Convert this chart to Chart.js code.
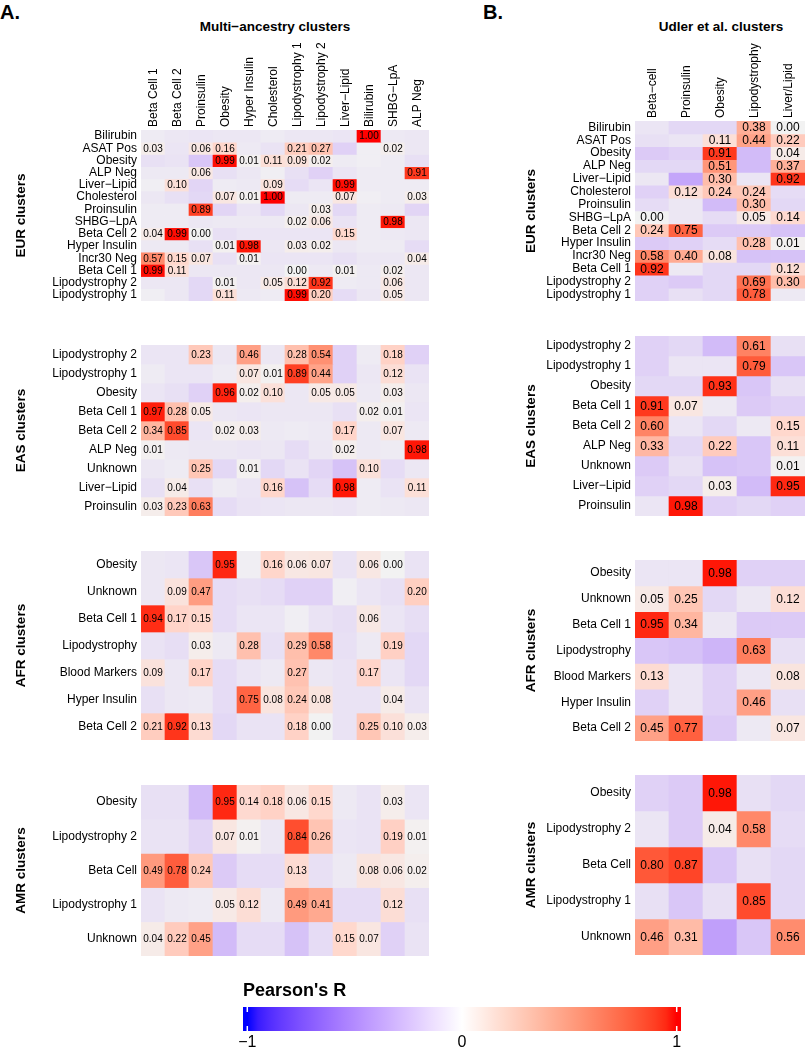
<!DOCTYPE html>
<html>
<head>
<meta charset="utf-8">
<script src="https://cdn.jsdelivr.net/npm/chart.js@4.4.1/dist/chart.umd.min.js"></script>
<style>
  body { margin: 0; background: #fff; width: 807px; height: 1050px; position: relative; overflow: hidden;
         font-family: "Liberation Sans", Arial, sans-serif; }
  canvas { position: absolute; }
  .lbl { position: absolute; font-weight: bold; color: #000; white-space: nowrap; }
</style>
</head>
<body>
<div class="lbl" style="left:0;top:2px;font-size:20px;line-height:20px;">A.</div>
<div class="lbl" style="left:483px;top:2px;font-size:20px;line-height:20px;">B.</div>
<div class="lbl" style="left:125px;top:19px;width:300px;text-align:center;font-size:13.5px;line-height:16px;">Multi−ancestry clusters</div>
<div class="lbl" style="left:571px;top:19px;width:300px;text-align:center;font-size:13.5px;line-height:16px;">Udler et al. clusters</div>

<canvas id="eurA" width="429" height="301" style="left:0;top:0"></canvas>
<canvas id="easA" width="429" height="171" style="left:0;top:345px"></canvas>
<canvas id="afrA" width="429" height="189" style="left:0;top:551px"></canvas>
<canvas id="amrA" width="429" height="171" style="left:0;top:785px"></canvas>
<canvas id="eurB" width="305" height="301" style="left:500px;top:0"></canvas>
<canvas id="easB" width="305" height="180" style="left:500px;top:336px"></canvas>
<canvas id="afrB" width="305" height="181" style="left:500px;top:560px"></canvas>
<canvas id="amrB" width="305" height="180" style="left:500px;top:775px"></canvas>
<canvas id="legend" width="480" height="75" style="left:220px;top:975px"></canvas>

<script>
const FONT = '"Liberation Sans", Arial, sans-serif';

// column labels
const colsA = ['Beta Cell 1', 'Beta Cell 2', 'Proinsulin', 'Obesity', 'Hyper Insulin', 'Cholesterol',
  'Lipodystrophy 1', 'Lipodystrophy 2', 'Liver−Lipid', 'Bilirubin', 'SHBG−LpA', 'ALP Neg'];
const colsB = ['Beta−cell', 'Proinsulin', 'Obesity', 'Lipodystrophy', 'Liver/Lipid'];

// row labels (ancestry clusters)
const rowsEur = ['Bilirubin', 'ASAT Pos', 'Obesity', 'ALP Neg', 'Liver−Lipid', 'Cholesterol', 'Proinsulin',
  'SHBG−LpA', 'Beta Cell 2', 'Hyper Insulin', 'Incr30 Neg', 'Beta Cell 1', 'Lipodystrophy 2', 'Lipodystrophy 1'];
const rowsEas = ['Lipodystrophy 2', 'Lipodystrophy 1', 'Obesity', 'Beta Cell 1', 'Beta Cell 2', 'ALP Neg',
  'Unknown', 'Liver−Lipid', 'Proinsulin'];
const rowsAfr = ['Obesity', 'Unknown', 'Beta Cell 1', 'Lipodystrophy', 'Blood Markers', 'Hyper Insulin', 'Beta Cell 2'];
const rowsAmr = ['Obesity', 'Lipodystrophy 2', 'Beta Cell', 'Lipodystrophy 1', 'Unknown'];

// Pearson's R, multi-ancestry clusters
const valsEurA = [
  [-0.03, -0.05, -0.06, -0.05, -0.05, -0.03, -0.05, -0.05, -0.06, 1.00, -0.04, -0.05],
  [0.03, -0.06, 0.06, 0.16, -0.04, -0.07, 0.21, 0.27, -0.15, -0.02, 0.02, -0.05],
  [-0.08, -0.07, -0.20, 0.99, 0.01, 0.11, 0.09, 0.02, -0.03, -0.02, -0.03, -0.08],
  [-0.04, -0.04, 0.06, -0.08, -0.05, -0.02, -0.08, -0.15, -0.06, -0.03, -0.03, 0.91],
  [-0.02, 0.10, -0.13, -0.03, -0.04, 0.09, -0.10, -0.06, 0.99, -0.03, -0.03, -0.03],
  [-0.05, -0.08, -0.12, 0.07, 0.01, 1.00, -0.03, -0.03, 0.07, -0.02, -0.03, 0.03],
  [-0.03, -0.03, 0.89, -0.13, -0.06, -0.12, -0.05, 0.03, -0.12, -0.03, -0.04, -0.13],
  [-0.03, -0.03, -0.05, -0.04, -0.04, -0.04, 0.02, 0.06, -0.07, -0.03, 0.98, -0.05],
  [0.04, 0.99, 0.00, -0.08, -0.06, -0.06, -0.06, -0.06, 0.15, -0.03, -0.04, -0.05],
  [-0.04, -0.04, -0.08, 0.01, 0.98, -0.05, 0.03, 0.02, -0.05, -0.03, -0.03, -0.10],
  [0.57, 0.15, 0.07, -0.08, 0.01, -0.06, -0.06, -0.06, -0.08, -0.05, -0.05, 0.04],
  [0.99, 0.11, -0.05, -0.05, -0.05, -0.05, 0.00, -0.04, 0.01, -0.04, 0.02, -0.05],
  [-0.05, -0.05, -0.12, 0.01, -0.05, 0.05, 0.12, 0.92, -0.03, -0.04, 0.06, -0.05],
  [-0.02, -0.05, -0.12, 0.11, -0.04, -0.03, 0.99, 0.20, -0.10, -0.05, 0.05, -0.05]
];
const valsEasA = [
  [-0.06, -0.06, 0.23, -0.05, 0.46, -0.05, 0.28, 0.54, -0.15, -0.03, 0.18, -0.15],
  [-0.03, -0.06, -0.06, -0.03, 0.07, 0.01, 0.89, 0.44, -0.15, -0.05, 0.12, -0.07],
  [-0.06, -0.08, -0.15, 0.96, 0.02, 0.10, -0.05, 0.05, 0.05, -0.04, 0.03, -0.05],
  [0.97, 0.28, 0.05, -0.05, -0.06, -0.05, -0.05, -0.05, -0.08, 0.02, 0.01, -0.06],
  [0.34, 0.85, -0.06, 0.02, 0.03, -0.04, -0.03, -0.04, 0.17, -0.04, 0.07, -0.04],
  [0.01, -0.04, -0.05, -0.05, -0.06, -0.05, -0.10, -0.05, 0.02, -0.04, -0.03, 0.98],
  [-0.05, -0.03, 0.25, -0.12, 0.01, -0.12, -0.07, -0.13, -0.22, 0.10, -0.10, -0.05],
  [-0.08, 0.04, -0.08, -0.03, -0.06, 0.16, -0.22, -0.10, 0.98, -0.03, -0.07, 0.11],
  [0.03, 0.23, 0.63, -0.10, -0.07, -0.06, -0.05, -0.05, -0.06, -0.03, -0.04, -0.05]
];
const valsAfrA = [
  [-0.05, -0.06, -0.20, 0.95, -0.02, 0.16, 0.06, 0.07, -0.07, 0.06, 0.00, -0.07],
  [-0.05, 0.09, 0.47, -0.10, -0.08, -0.10, -0.15, -0.15, -0.02, -0.06, -0.08, 0.20],
  [0.94, 0.17, 0.15, -0.10, -0.06, -0.06, -0.02, -0.07, -0.09, 0.06, -0.06, -0.09],
  [-0.07, -0.09, 0.03, -0.04, 0.28, -0.08, 0.29, 0.58, -0.08, -0.04, 0.19, -0.12],
  [0.09, -0.05, 0.17, -0.10, -0.06, -0.04, 0.27, -0.05, -0.07, 0.17, -0.06, -0.12],
  [-0.08, -0.05, -0.04, -0.10, 0.75, 0.08, 0.24, 0.08, -0.07, -0.07, 0.04, -0.07],
  [0.21, 0.92, 0.13, -0.12, -0.07, -0.07, 0.18, 0.00, -0.07, 0.25, 0.10, 0.03]
];
const valsAmrA = [
  [-0.08, -0.08, -0.25, 0.95, 0.14, 0.18, 0.06, 0.15, -0.04, -0.07, 0.03, -0.06],
  [-0.07, -0.07, -0.13, 0.07, 0.01, -0.05, 0.84, 0.26, -0.06, -0.07, 0.19, 0.01],
  [0.49, 0.78, 0.24, -0.18, -0.10, -0.10, 0.13, -0.08, -0.04, 0.08, 0.06, 0.02],
  [-0.07, -0.04, -0.03, 0.05, 0.12, -0.04, 0.49, 0.41, -0.10, -0.10, 0.12, -0.08],
  [0.04, 0.22, 0.45, -0.25, -0.10, -0.10, -0.22, -0.10, 0.15, 0.07, -0.15, -0.07]
];

// Pearson's R, Udler et al. clusters
const valsEurB = [
  [-0.06, -0.12, -0.12, 0.38, 0.00],
  [-0.08, -0.06, 0.11, 0.44, 0.22],
  [-0.18, -0.15, 0.91, -0.25, 0.04],
  [-0.12, -0.12, 0.51, -0.25, 0.37],
  [-0.05, -0.35, 0.30, -0.06, 0.92],
  [-0.15, 0.12, 0.24, 0.24, -0.10],
  [-0.10, -0.05, -0.25, 0.30, -0.12],
  [0.00, -0.05, -0.10, 0.05, 0.14],
  [0.24, 0.75, -0.18, -0.18, -0.22],
  [-0.18, -0.15, -0.10, 0.28, 0.01],
  [0.58, 0.40, 0.08, -0.22, -0.22],
  [0.92, -0.04, -0.12, -0.12, 0.12],
  [-0.15, -0.18, -0.12, 0.69, 0.30],
  [-0.15, -0.08, -0.12, 0.78, -0.04]
];
const valsEasB = [
  [-0.15, -0.12, -0.25, 0.61, -0.08],
  [-0.15, -0.06, -0.06, 0.79, -0.20],
  [-0.12, -0.12, 0.93, -0.20, -0.08],
  [0.91, 0.07, -0.04, -0.18, -0.15],
  [0.60, -0.06, -0.12, -0.04, 0.15],
  [0.33, -0.12, 0.22, -0.20, 0.11],
  [-0.18, -0.08, -0.22, -0.20, 0.01],
  [-0.15, -0.12, 0.03, -0.25, 0.95],
  [-0.06, 0.98, -0.15, -0.12, -0.15]
];
const valsAfrB = [
  [-0.06, -0.06, 0.98, -0.15, -0.15],
  [0.05, 0.25, -0.12, -0.05, 0.12],
  [0.95, 0.34, -0.05, -0.18, -0.18],
  [-0.20, -0.22, -0.28, 0.63, -0.08],
  [0.13, -0.06, -0.15, -0.05, 0.08],
  [-0.15, -0.06, -0.15, 0.46, -0.08],
  [0.45, 0.77, -0.18, -0.04, 0.07]
];
const valsAmrB = [
  [-0.15, -0.18, 0.98, -0.08, -0.12],
  [-0.06, -0.18, 0.04, 0.58, -0.10],
  [0.80, 0.87, -0.20, -0.08, -0.12],
  [-0.08, -0.20, -0.08, 0.85, -0.12],
  [0.46, 0.31, -0.38, -0.20, 0.56]
];

const legendTicks = [-1, 0, 1];

// ---- colour scale: blue - white - red interpolated in LAB ----
function toLab(hex) {
  const lin = c => { c /= 255; return c <= 0.04045 ? c / 12.92 : Math.pow((c + 0.055) / 1.055, 2.4); };
  const r = lin(parseInt(hex.slice(1, 3), 16)), g = lin(parseInt(hex.slice(3, 5), 16)), b = lin(parseInt(hex.slice(5, 7), 16));
  const X = (r * 0.4124 + g * 0.3576 + b * 0.1805) / 0.95047;
  const Y = r * 0.2126 + g * 0.7152 + b * 0.0722;
  const Z = (r * 0.0193 + g * 0.1192 + b * 0.9505) / 1.08883;
  const f = t => t > 0.008856 ? Math.cbrt(t) : 7.787 * t + 16 / 116;
  return [116 * f(Y) - 16, 500 * (f(X) - f(Y)), 200 * (f(Y) - f(Z))];
}
function fromLab(L, a, b) {
  const fy = (L + 16) / 116, fx = fy + a / 500, fz = fy - b / 200;
  const inv = t => t * t * t > 0.008856 ? t * t * t : (t - 16 / 116) / 7.787;
  const X = inv(fx) * 0.95047, Y = inv(fy), Z = inv(fz) * 1.08883;
  const R = X * 3.2406 - Y * 1.5372 - Z * 0.4986;
  const G = -X * 0.9689 + Y * 1.8758 + Z * 0.0415;
  const B = X * 0.0557 - Y * 0.2040 + Z * 1.0570;
  const gam = c => {
    c = c <= 0.0031308 ? 12.92 * c : 1.055 * Math.pow(c, 1 / 2.4) - 0.055;
    return Math.round(Math.min(1, Math.max(0, c)) * 255);
  };
  return `rgb(${gam(R)},${gam(G)},${gam(B)})`;
}
const BLUE = toLab('#0000ff'), RED = toLab('#ff0000');
function makeScale(midHex) {
  const mid = toLab(midHex);
  return v => {
    const t = Math.max(-1, Math.min(1, v));
    const end = t < 0 ? BLUE : RED, s = Math.abs(t);
    return fromLab(mid[0] + s * (end[0] - mid[0]), mid[1] + s * (end[1] - mid[1]), mid[2] + s * (end[2] - mid[2]));
  };
}
const cellColor = makeScale('#f2f2f2');
const barColor = makeScale('#ffffff');

// write the correlation inside each non-negative cell
const cellText = {
  id: 'cellText',
  afterDatasetsDraw(chart, args, opts) {
    const ctx = chart.ctx;
    ctx.save();
    ctx.font = `${opts.size}px ${FONT}`;
    ctx.fillStyle = '#000';
    ctx.textAlign = 'center';
    ctx.textBaseline = 'middle';
    chart.data.datasets.forEach((ds, i) => {
      chart.getDatasetMeta(i).data.forEach((bar, j) => {
        const v = ds.values[j];
        if (v < 0) return;
        ctx.fillText(v.toFixed(2), bar.x, (bar.y + bar.base) / 2 + 0.5);
      });
    });
    ctx.restore();
  }
};

function heatmap(id, rows, cols, vals, group, o) {
  new Chart(document.getElementById(id), {
    type: 'bar',
    data: {
      labels: cols,
      datasets: rows.map((r, i) => ({
        label: r,
        data: cols.map(() => [i, i + 1]),
        values: vals[i],
        backgroundColor: vals[i].map(cellColor),
        borderWidth: 0,
        grouped: false,
        categoryPercentage: 1,
        barPercentage: 1
      }))
    },
    options: {
      responsive: false,
      animation: false,
      events: [],
      layout: { padding: 0 },
      plugins: { legend: { display: false }, tooltip: { enabled: false }, cellText: { size: o.cellFont } },
      scales: {
        x: {
          position: 'top',
          grid: { display: false, drawTicks: false },
          border: { display: false },
          ticks: {
            display: o.xh > 0, autoSkip: false, maxRotation: 90, minRotation: 90, padding: 3,
            labelOffset: 15, color: '#000', font: { family: FONT, size: 12 }
          },
          afterFit: s => { s.height = o.xh; s.paddingLeft = 0; s.paddingRight = 0; }
        },
        y: {
          type: 'linear', reverse: true, min: 0, max: rows.length,
          grid: { display: false, drawTicks: false },
          border: { display: false },
          afterBuildTicks: s => { s.ticks = rows.map((r, i) => ({ value: i + 0.5 })); },
          ticks: {
            autoSkip: false, padding: 4, color: '#000', font: { family: FONT, size: 12 },
            callback: v => rows[Math.floor(v)]
          },
          title: {
            display: true, text: group, color: '#000',
            font: { family: FONT, size: 13.5, weight: 'bold' },
            padding: { top: o.titlePad, bottom: 0 }
          },
          afterFit: s => { s.width = o.yw; s.paddingTop = 0; s.paddingBottom = 0; }
        }
      }
    },
    plugins: [cellText]
  });
}

const optA = { yw: 141, titlePad: 13, cellFont: 10 };
const optB = { yw: 135, titlePad: 23, cellFont: 12 };
heatmap('eurA', rowsEur, colsA, valsEurA, 'EUR clusters', { ...optA, xh: 130 });
heatmap('easA', rowsEas, colsA, valsEasA, 'EAS clusters', { ...optA, xh: 0 });
heatmap('afrA', rowsAfr, colsA, valsAfrA, 'AFR clusters', { ...optA, xh: 0 });
heatmap('amrA', rowsAmr, colsA, valsAmrA, 'AMR clusters', { ...optA, xh: 0 });
heatmap('eurB', rowsEur, colsB, valsEurB, 'EUR clusters', { ...optB, xh: 121 });
heatmap('easB', rowsEas, colsB, valsEasB, 'EAS clusters', { ...optB, xh: 0 });
heatmap('afrB', rowsAfr, colsB, valsAfrB, 'AFR clusters', { ...optB, xh: 0 });
heatmap('amrB', rowsAmr, colsB, valsAmrB, 'AMR clusters', { ...optB, xh: 0 });

// ---- colour key ----
const keyTicks = {
  id: 'keyTicks',
  afterDatasetsDraw(chart) {
    const { ctx, chartArea: a } = chart;
    const x = chart.scales.x;
    ctx.save();
    ctx.strokeStyle = '#fff';
    ctx.lineWidth = 1.5;
    [legendTicks[0], legendTicks[legendTicks.length - 1]].forEach(v => {
      const px = x.getPixelForValue(v);
      ctx.beginPath();
      ctx.moveTo(px, a.top); ctx.lineTo(px, a.top + 5);
      ctx.moveTo(px, a.bottom - 5); ctx.lineTo(px, a.bottom);
      ctx.stroke();
    });
    ctx.restore();
  }
};

new Chart(document.getElementById('legend'), {
  type: 'bar',
  data: {
    labels: [''],
    datasets: [{
      data: [[-1.02, 1.02]],
      borderWidth: 0,
      categoryPercentage: 1,
      barPercentage: 1,
      backgroundColor(c) {
        const chart = c.chart, a = chart.chartArea;
        if (!a) return null;
        const x = chart.scales.x;
        const g = chart.ctx.createLinearGradient(a.left, 0, a.right, 0);
        for (let k = -20; k <= 20; k++) {
          const t = k / 20;
          g.addColorStop((x.getPixelForValue(t) - a.left) / (a.right - a.left), barColor(t));
        }
        return g;
      }
    }]
  },
  options: {
    indexAxis: 'y',
    responsive: false,
    animation: false,
    events: [],
    layout: { padding: { left: 23, right: 19, top: 0, bottom: 0 } },
    plugins: {
      legend: { display: false },
      tooltip: { enabled: false },
      title: {
        display: true, text: "Pearson's R", align: 'start', color: '#000',
        font: { family: FONT, size: 18, weight: 'bold' },
        padding: { top: 5, bottom: 5.4 }
      }
    },
    scales: {
      x: {
        type: 'linear', min: -1.02, max: 1.02,
        grid: { display: false, drawTicks: false },
        border: { display: false },
        afterBuildTicks: s => { s.ticks = legendTicks.map(v => ({ value: v })); },
        ticks: {
          padding: 2, color: '#000', font: { family: FONT, size: 16 },
          callback: v => v < 0 ? '\u2212' + Math.abs(v) : String(v)
        },
        afterFit: s => { s.height = 19; s.paddingLeft = 0; s.paddingRight = 0; }
      },
      y: { display: false }
    }
  },
  plugins: [keyTicks]
});
</script>
</body>
</html>
